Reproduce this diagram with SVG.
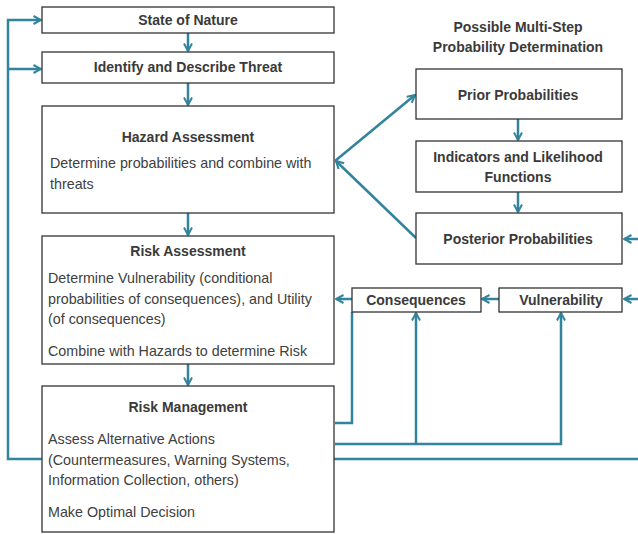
<svg xmlns="http://www.w3.org/2000/svg" width="638" height="534" viewBox="0 0 638 534">
<style>
.box{fill:#fff;stroke:#333;stroke-width:1.3}
.t{font-family:"Liberation Sans",Arial,sans-serif;font-size:14px;font-weight:bold;fill:#3a3a3a;text-anchor:middle}
.b{font-family:"Liberation Sans",Arial,sans-serif;font-size:14.3px;fill:#404040}
.c{fill:none;stroke:#31849b;stroke-width:2.5}
.a{marker-end:url(#ah)}
</style>
<defs>
<marker id="ah" viewBox="0 0 10 10" refX="9" refY="5" markerWidth="10" markerHeight="10" markerUnits="userSpaceOnUse" orient="auto">
<path d="M1.5,1 L9,5 L1.5,9" fill="none" stroke="#31849b" stroke-width="2"/>
</marker>
</defs>
<rect width="638" height="534" fill="#fff"/>
<g id="connectors">
<path class="c a" d="M638,459 H8 V20 H41"/>
<path class="c a" d="M8,69 H41"/>
<path class="c a" d="M188,33 V51"/>
<path class="c a" d="M188,83 V105"/>
<path class="c a" d="M188,213 V235"/>
<path class="c a" d="M188,364 V385"/>
<path class="c a" d="M335,161 L415,95"/>
<path class="c a" d="M416,238 L336,161"/>
<path class="c a" d="M518,119 V140"/>
<path class="c a" d="M518,192 V212"/>
<path class="c a" d="M638,239 H624"/>
<path class="c a" d="M638,299 H624"/>
<path class="c a" d="M499,299 H482"/>
<path class="c a" d="M352,299 H336"/>
<path class="c" d="M352,312 V423 H335"/>
<path class="c a" d="M335,444 H561 V313"/>
<path class="c a" d="M416,444 V313"/>
</g>
<g id="state-of-nature">
<rect class="box" x="42" y="7" width="292" height="26"/>
<text class="t" x="188" y="25">State of Nature</text>
</g>
<g id="identify-threat">
<rect class="box" x="42" y="52" width="292" height="31"/>
<text class="t" x="188" y="72">Identify and Describe Threat</text>
</g>
<g id="hazard-assessment">
<rect class="box" x="42" y="106" width="292" height="107"/>
<text class="t" x="188" y="142">Hazard Assessment</text>
<text class="b" x="50" y="168">Determine probabilities and combine with</text>
<text class="b" x="50" y="189">threats</text>
</g>
<g id="risk-assessment">
<rect class="box" x="42" y="236" width="292" height="128"/>
<text class="t" x="188" y="256">Risk Assessment</text>
<text class="b" x="48" y="283">Determine Vulnerability (conditional</text>
<text class="b" x="48" y="304">probabilities of consequences), and Utility</text>
<text class="b" x="48" y="324">(of consequences)</text>
<text class="b" x="48" y="356">Combine with Hazards to determine Risk</text>
</g>
<g id="risk-management">
<rect class="box" x="42" y="386" width="292" height="146"/>
<text class="t" x="188" y="412">Risk Management</text>
<text class="b" x="48" y="444">Assess Alternative Actions</text>
<text class="b" x="48" y="465">(Countermeasures, Warning Systems,</text>
<text class="b" x="48" y="485">Information Collection, others)</text>
<text class="b" x="48" y="517">Make Optimal Decision</text>
</g>
<g id="header">
<text class="t" x="518" y="32">Possible Multi-Step</text>
<text class="t" x="518" y="52">Probability Determination</text>
</g>
<g id="prior-probabilities">
<rect class="box" x="416" y="69" width="206" height="50"/>
<text class="t" x="518" y="100">Prior Probabilities</text>
</g>
<g id="indicators">
<rect class="box" x="416" y="141" width="206" height="51"/>
<text class="t" x="518" y="162">Indicators and Likelihood</text>
<text class="t" x="518" y="182">Functions</text>
</g>
<g id="posterior-probabilities">
<rect class="box" x="416" y="213" width="206" height="51"/>
<text class="t" x="518" y="244">Posterior Probabilities</text>
</g>
<g id="consequences">
<rect class="box" x="352" y="288" width="129" height="24"/>
<text class="t" x="416" y="305">Consequences</text>
</g>
<g id="vulnerability">
<rect class="box" x="499" y="288" width="123" height="24"/>
<text class="t" x="561" y="305">Vulnerability</text>
</g>
</svg>
